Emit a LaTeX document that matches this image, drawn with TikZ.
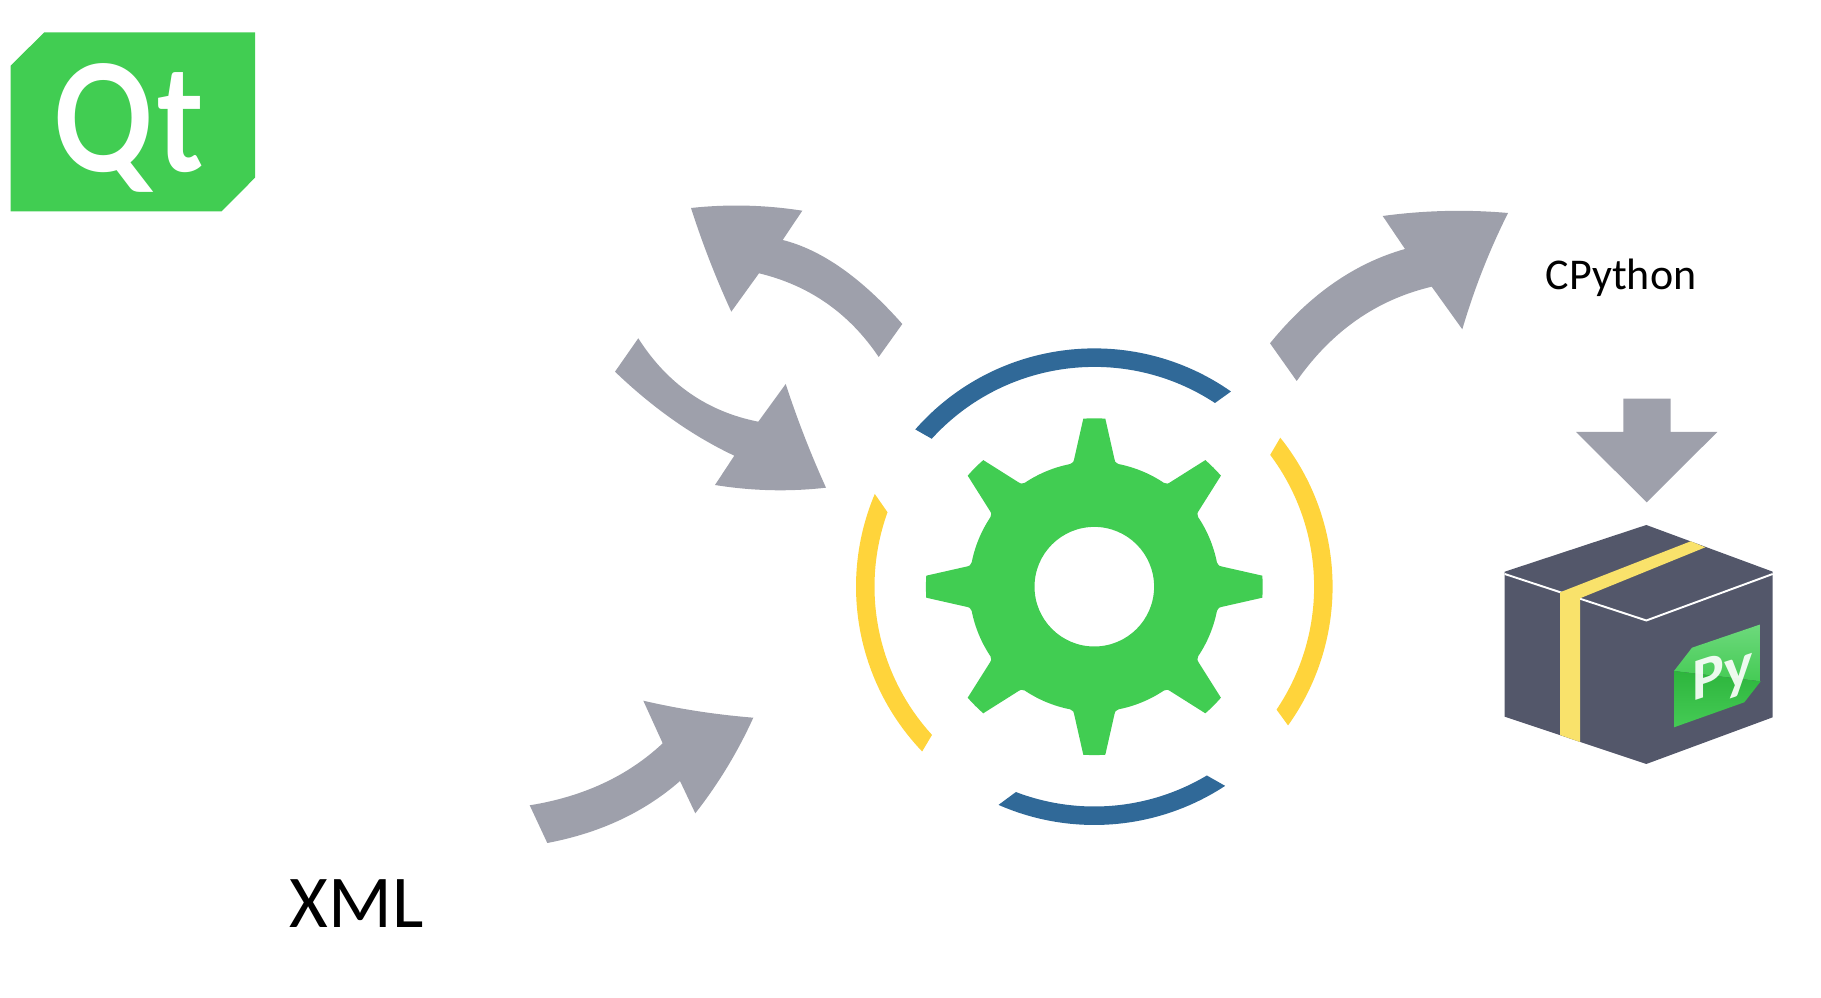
\documentclass[tikz,border=0pt]{standalone}
\usepackage{fontspec}
\usetikzlibrary{calc}
\newfontfamily\labelfont{Carlito}
\newfontfamily\logofont{Lato}
\definecolor{qtgreen}{HTML}{41CD52}
\definecolor{pyblue}{HTML}{306998}
\definecolor{pyyellow}{HTML}{FFD43B}
\definecolor{arrowgray}{HTML}{9EA0AB}
\definecolor{boxgray}{HTML}{53576A}
\definecolor{tapeyellow}{HTML}{F9E26B}
\definecolor{pylight}{HTML}{6DD97C}
\definecolor{pymid}{HTML}{45CB55}
\definecolor{pydark}{HTML}{2DB53D}
\tikzset{flow/.style = {fill=arrowgray}}
\tikzset{bluering/.style = {fill=pyblue}}
\tikzset{yellowring/.style = {fill=pyyellow}}
\tikzset{labeltext/.style = {anchor=base west, inner sep=0, text=black}}
\newcommand{\ringpiece}[5]{\fill [#1] (#2:238.3) arc [start angle=#2, end angle=#3, radius=238.3] -- (#5:219.8) arc [start angle=#5, end angle=#4, radius=219.8] -- cycle;}
\newcommand{\bendto}[3]{.. controls ($(#1)!0.667!(#2)$) and ($(#3)!0.667!(#2)$) .. (#3)}
\begin{document}
\begin{tikzpicture}[x=0.01cm, y=-0.01cm]
      \useasboundingbox (0, 0) rectangle (1821, 998);
      \fill [qtgreen] (44.3, 32.3) -- (255, 32.3) -- (255, 177.7) -- (221.7, 211.3) -- (10.7, 211.3) -- (10.7, 65.7) -- cycle;
      \node (qt) at (53, 172) [anchor=base west, inner sep=0, text=white, xscale=0.84, transform shape] {\logofont\bfseries\fontsize{42}{42}\selectfont Q\kern1pt t};
      \node (xml) at (289, 927.3) [labeltext] {\labelfont\fontsize{21.2}{21.2}\selectfont XML};
      \node (cpython) at (1545, 290) [labeltext] {\labelfont\fontsize{12.5}{12.5}\selectfont CPython};
      \fill [flow] (1270, 343.3) \bendto{1270, 343.3}{1329.1, 270.45}{1405, 249} -- (1382.7, 216) \bendto{1382.7, 216}{1445.5, 207.5}{1508, 213} \bendto{1508, 213}{1480, 269}{1462.3, 329.3} -- (1431.7, 286.7) \bendto{1431.7, 286.7}{1349.2, 306.15}{1296.7, 381} -- cycle;
      \fill [flow] (691, 208) \bendto{691, 208}{746.5, 202}{802.3, 210.7} -- (782.7, 240) \bendto{782.7, 240}{840.9, 254.6}{902.3, 324} -- (878.7, 357) \bendto{878.7, 357}{834.55, 291.45}{759, 273.3} -- (731.3, 311.7) \bendto{731.3, 311.7}{708, 261}{691, 208} -- cycle;
      \fill [flow] (615, 371.7) -- (638.3, 338.3) \bendto{638.3, 338.3}{681.7, 406.6}{758.3, 421.7} -- (785.7, 384) \bendto{785.7, 384}{803, 437}{826, 487.7} \bendto{826, 487.7}{770.5, 494}{715, 485} -- (734.3, 455.7) \bendto{734.3, 455.7}{671.95, 426.3}{615, 371.7} -- cycle;
      \fill [flow] (529.7, 805.3) \bendto{529.7, 805.3}{610.4, 792.3}{662.7, 743.3} -- (643.3, 700.7) \bendto{643.3, 700.7}{696, 713}{753.3, 717.7} \bendto{753.3, 717.7}{730, 769}{695.3, 813.3} -- (680, 781) \bendto{680, 781}{626.35, 828}{547.3, 843} -- cycle;
      \fill [flow] (1623.3, 398.7) -- (1670.7, 398.7) -- (1670.7, 432) -- (1717.3, 432) -- (1646.7, 502.3) -- (1576, 432) -- (1623.3, 432) -- cycle;
      \begin{scope}[shift={(1094.3, 586.7)}, y=0.01cm]
        \ringpiece{bluering}{138.7}{55}{137.7}{56.7}
        \ringpiece{yellowring}{38.7}{-35.6}{36.85}{-34}
        \ringpiece{yellowring}{157.1}{223.75}{160.2}{222.4}
        \ringpiece{bluering}{246.3}{303.3}{249.1}{300.8}
        \fill [qtgreen, even odd rule] (-11.2:125) \foreach \a in {0,45,...,315} { .. controls (\a-9.4:126.5) .. (\a-9.1:128.5) -- (\a-3.75:168.4) arc [start angle=\a-3.75, end angle=\a+3.75, radius=168.4] -- (\a+9.1:128.5) .. controls (\a+9.4:126.5) .. (\a+11.2:125) arc [start angle=\a+11.2, end angle=\a+33.8, radius=125]} -- cycle (0, 0) circle [radius=59.8];
      \end{scope}
      \fill [boxgray] (1646.3, 525) -- (1772.7, 571.7) -- (1772.7, 717.3) -- (1646.3, 764) -- (1504.7, 716.7) -- (1504.7, 571.7) -- cycle;
      \draw [white, line width=0.55pt] (1504.7, 574) -- (1646.3, 620.5) -- (1772.7, 574);
      \fill [tapeyellow] (1560, 592.3) -- (1690.7, 541.3) -- (1705.3, 547.3) -- (1580, 598.3) -- (1580, 742) -- (1560, 735) -- cycle;
      \shade [top color=pylight, bottom color=pymid] (1674, 671) -- (1692, 647.7) -- (1760.7, 624.3) -- (1760.7, 681.3) -- cycle;
      \shade [top color=pydark, bottom color=pymid] (1674, 671) -- (1760.7, 681.3) -- (1744.3, 702.3) -- (1674, 727.3) -- cycle;
      \node (py) at (1692, 702) [anchor=base west, inner sep=0, text=white, opacity=0.9, yslant=0.33, transform shape] {\labelfont\bfseries\fontsize{17}{17}\selectfont Py};
\end{tikzpicture}
\end{document}
